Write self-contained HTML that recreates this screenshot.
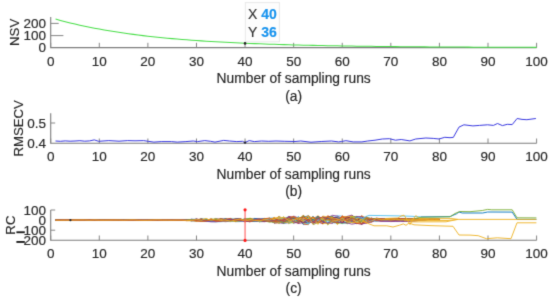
<!DOCTYPE html><html><head><meta charset="utf-8"><style>html,body{margin:0;padding:0;background:#fff;}svg{display:block;}text{font-family:"Liberation Sans",sans-serif;fill:#262626;stroke:#262626;stroke-width:0.16px;}</style></head><body>
<svg width="550" height="300" viewBox="0 0 550 300">
<defs><filter id="bl" x="0" y="0" width="550" height="300" filterUnits="userSpaceOnUse" color-interpolation-filters="sRGB"><feConvolveMatrix order="3" kernelMatrix="1 6 1 6 36 6 1 6 1" edgeMode="duplicate"/></filter></defs><g filter="url(#bl)"><rect width="550" height="300" fill="#fff"/>
<path d="M50.7,17.1 V47.6 H536.6" fill="none" stroke="#7c7c7c" stroke-width="1.1"/>
<line x1="50.70" y1="42.80" x2="50.70" y2="47.6" stroke="#858585" stroke-width="1"/>
<text x="50.70" y="65.50" font-size="13.5" text-anchor="middle">0</text>
<line x1="99.29" y1="42.80" x2="99.29" y2="47.6" stroke="#858585" stroke-width="1"/>
<text x="99.29" y="65.50" font-size="13.5" text-anchor="middle">10</text>
<line x1="147.88" y1="42.80" x2="147.88" y2="47.6" stroke="#858585" stroke-width="1"/>
<text x="147.88" y="65.50" font-size="13.5" text-anchor="middle">20</text>
<line x1="196.47" y1="42.80" x2="196.47" y2="47.6" stroke="#858585" stroke-width="1"/>
<text x="196.47" y="65.50" font-size="13.5" text-anchor="middle">30</text>
<line x1="245.06" y1="42.80" x2="245.06" y2="47.6" stroke="#858585" stroke-width="1"/>
<text x="245.06" y="65.50" font-size="13.5" text-anchor="middle">40</text>
<line x1="293.65" y1="42.80" x2="293.65" y2="47.6" stroke="#858585" stroke-width="1"/>
<text x="293.65" y="65.50" font-size="13.5" text-anchor="middle">50</text>
<line x1="342.24" y1="42.80" x2="342.24" y2="47.6" stroke="#858585" stroke-width="1"/>
<text x="342.24" y="65.50" font-size="13.5" text-anchor="middle">60</text>
<line x1="390.83" y1="42.80" x2="390.83" y2="47.6" stroke="#858585" stroke-width="1"/>
<text x="390.83" y="65.50" font-size="13.5" text-anchor="middle">70</text>
<line x1="439.42" y1="42.80" x2="439.42" y2="47.6" stroke="#858585" stroke-width="1"/>
<text x="439.42" y="65.50" font-size="13.5" text-anchor="middle">80</text>
<line x1="488.01" y1="42.80" x2="488.01" y2="47.6" stroke="#858585" stroke-width="1"/>
<text x="488.01" y="65.50" font-size="13.5" text-anchor="middle">90</text>
<line x1="536.60" y1="42.80" x2="536.60" y2="47.6" stroke="#858585" stroke-width="1"/>
<text x="536.60" y="65.50" font-size="13.5" text-anchor="middle">100</text>
<line x1="50.7" y1="23.40" x2="58.70" y2="23.40" stroke="#858585" stroke-width="1"/>
<text x="46.10" y="28.00" font-size="13.5" text-anchor="end">200</text>
<line x1="50.7" y1="35.60" x2="63.40" y2="35.60" stroke="#858585" stroke-width="1"/>
<text x="46.10" y="40.20" font-size="13.5" text-anchor="end">100</text>
<line x1="50.7" y1="47.60" x2="50.70" y2="47.60" stroke="#858585" stroke-width="1"/>
<text x="46.10" y="52.20" font-size="13.5" text-anchor="end">0</text>
<text x="293.65" y="83.40" font-size="13.8" text-anchor="middle">Number of sampling runs</text>
<text x="293.65" y="100.70" font-size="13.8" text-anchor="middle">(a)</text>
<text transform="translate(18.7,32.35) rotate(-90)" x="0" y="0" font-size="13.2" text-anchor="middle">NSV</text>
<polyline points="55.56,19.04 60.42,20.39 65.28,21.67 70.14,22.89 75.00,24.05 79.85,25.16 84.71,26.21 89.57,27.22 94.43,28.18 99.29,29.09 104.15,29.96 109.01,30.79 113.87,31.58 118.73,32.34 123.59,33.06 128.44,33.74 133.30,34.39 138.16,35.01 143.02,35.61 147.88,36.17 152.74,36.71 157.60,37.22 162.46,37.71 167.32,38.17 172.18,38.62 177.03,39.04 181.89,39.44 186.75,39.83 191.61,40.19 196.47,40.54 201.33,40.87 206.19,41.19 211.05,41.49 215.91,41.78 220.76,42.05 225.62,42.31 230.48,42.56 235.34,42.80 240.20,43.02 245.06,43.24 249.92,43.44 254.78,43.64 259.64,43.83 264.50,44.00 269.36,44.17 274.21,44.33 279.07,44.49 283.93,44.63 288.79,44.77 293.65,44.91 298.51,45.03 303.37,45.15 308.23,45.27 313.09,45.38 317.95,45.48 322.80,45.58 327.66,45.68 332.52,45.77 337.38,45.85 342.24,45.94 347.10,46.02 351.96,46.09 356.82,46.16 361.68,46.23 366.54,46.29 371.39,46.35 376.25,46.41 381.11,46.47 385.97,46.52 390.83,46.57 395.69,46.62 400.55,46.67 405.41,46.71 410.27,46.75 415.12,46.79 419.98,46.83 424.84,46.87 429.70,46.90 434.56,46.93 439.42,46.97 444.28,47.00 449.14,47.02 454.00,47.05 458.86,47.08 463.71,47.10 468.57,47.12 473.43,47.15 478.29,47.17 483.15,47.19 488.01,47.21 492.87,47.23 497.73,47.24 502.59,47.26 507.45,47.28 512.31,47.29 517.16,47.31 522.02,47.32 526.88,47.33 531.74,47.35 536.60,47.36" fill="none" stroke="#48de48" stroke-width="1.05"/>
<path d="M50.7,113.3 V143.3 H536.6" fill="none" stroke="#7c7c7c" stroke-width="1.1"/>
<line x1="50.70" y1="138.50" x2="50.70" y2="143.3" stroke="#858585" stroke-width="1"/>
<text x="50.70" y="161.20" font-size="13.5" text-anchor="middle">0</text>
<line x1="99.29" y1="138.50" x2="99.29" y2="143.3" stroke="#858585" stroke-width="1"/>
<text x="99.29" y="161.20" font-size="13.5" text-anchor="middle">10</text>
<line x1="147.88" y1="138.50" x2="147.88" y2="143.3" stroke="#858585" stroke-width="1"/>
<text x="147.88" y="161.20" font-size="13.5" text-anchor="middle">20</text>
<line x1="196.47" y1="138.50" x2="196.47" y2="143.3" stroke="#858585" stroke-width="1"/>
<text x="196.47" y="161.20" font-size="13.5" text-anchor="middle">30</text>
<line x1="245.06" y1="138.50" x2="245.06" y2="143.3" stroke="#858585" stroke-width="1"/>
<text x="245.06" y="161.20" font-size="13.5" text-anchor="middle">40</text>
<line x1="293.65" y1="138.50" x2="293.65" y2="143.3" stroke="#858585" stroke-width="1"/>
<text x="293.65" y="161.20" font-size="13.5" text-anchor="middle">50</text>
<line x1="342.24" y1="138.50" x2="342.24" y2="143.3" stroke="#858585" stroke-width="1"/>
<text x="342.24" y="161.20" font-size="13.5" text-anchor="middle">60</text>
<line x1="390.83" y1="138.50" x2="390.83" y2="143.3" stroke="#858585" stroke-width="1"/>
<text x="390.83" y="161.20" font-size="13.5" text-anchor="middle">70</text>
<line x1="439.42" y1="138.50" x2="439.42" y2="143.3" stroke="#858585" stroke-width="1"/>
<text x="439.42" y="161.20" font-size="13.5" text-anchor="middle">80</text>
<line x1="488.01" y1="138.50" x2="488.01" y2="143.3" stroke="#858585" stroke-width="1"/>
<text x="488.01" y="161.20" font-size="13.5" text-anchor="middle">90</text>
<line x1="536.60" y1="138.50" x2="536.60" y2="143.3" stroke="#858585" stroke-width="1"/>
<text x="536.60" y="161.20" font-size="13.5" text-anchor="middle">100</text>
<line x1="50.7" y1="123.00" x2="55.20" y2="123.00" stroke="#858585" stroke-width="1"/>
<text x="46.10" y="127.60" font-size="13.5" text-anchor="end">0.5</text>
<line x1="50.7" y1="143.30" x2="50.70" y2="143.30" stroke="#858585" stroke-width="1"/>
<text x="46.10" y="147.90" font-size="13.5" text-anchor="end">0.4</text>
<text x="293.65" y="179.10" font-size="13.8" text-anchor="middle">Number of sampling runs</text>
<text x="293.65" y="196.40" font-size="13.8" text-anchor="middle">(b)</text>
<text transform="translate(22.6,128.30) rotate(-90)" x="0" y="0" font-size="13.2" text-anchor="middle">RMSECV</text>
<polyline points="55.50,141.00 60.40,141.30 65.20,140.90 70.10,141.20 75.00,141.00 79.90,140.70 84.70,141.20 89.60,140.90 94.30,139.90 98.60,141.30 108.80,140.60 119.00,141.20 127.70,140.60 135.00,140.80 143.70,140.60 148.10,141.30 153.90,142.10 161.20,141.60 171.40,141.60 177.20,142.10 185.90,141.60 193.20,141.00 197.50,141.60 204.80,140.60 210.60,141.30 215.00,142.10 223.70,140.40 229.50,141.00 236.80,141.60 242.60,141.30 244.80,142.60 249.20,140.60 254.30,141.60 261.50,141.00 268.80,141.30 276.00,141.00 284.80,141.30 295.00,141.50 300.80,141.00 311.00,142.20 321.20,141.50 331.40,141.00 338.60,141.90 341.50,141.50 345.90,140.70 353.20,141.90 361.90,141.90 367.70,141.00 375.00,140.20 382.30,139.00 389.50,138.70 395.40,140.20 401.20,139.50 409.90,140.90 415.70,139.00 425.90,138.00 433.20,138.40 439.00,139.00 444.80,137.30 450.00,137.70 453.30,137.40 459.00,127.10 463.90,124.80 472.90,125.90 479.50,125.40 487.60,124.80 493.40,125.40 497.50,123.50 502.40,125.60 507.30,124.30 512.20,124.60 517.10,118.50 522.00,119.40 526.90,119.70 535.90,118.50" fill="none" stroke="#3838e0" stroke-width="1.0" stroke-linejoin="round"/>
<path d="M50.7,209.9 V240.3 H536.6" fill="none" stroke="#7c7c7c" stroke-width="1.1"/>
<line x1="50.70" y1="235.50" x2="50.70" y2="240.3" stroke="#858585" stroke-width="1"/>
<text x="50.70" y="258.20" font-size="13.5" text-anchor="middle">0</text>
<line x1="99.29" y1="235.50" x2="99.29" y2="240.3" stroke="#858585" stroke-width="1"/>
<text x="99.29" y="258.20" font-size="13.5" text-anchor="middle">10</text>
<line x1="147.88" y1="235.50" x2="147.88" y2="240.3" stroke="#858585" stroke-width="1"/>
<text x="147.88" y="258.20" font-size="13.5" text-anchor="middle">20</text>
<line x1="196.47" y1="235.50" x2="196.47" y2="240.3" stroke="#858585" stroke-width="1"/>
<text x="196.47" y="258.20" font-size="13.5" text-anchor="middle">30</text>
<text x="245.06" y="258.20" font-size="13.5" text-anchor="middle">40</text>
<line x1="293.65" y1="235.50" x2="293.65" y2="240.3" stroke="#858585" stroke-width="1"/>
<text x="293.65" y="258.20" font-size="13.5" text-anchor="middle">50</text>
<line x1="342.24" y1="235.50" x2="342.24" y2="240.3" stroke="#858585" stroke-width="1"/>
<text x="342.24" y="258.20" font-size="13.5" text-anchor="middle">60</text>
<line x1="390.83" y1="235.50" x2="390.83" y2="240.3" stroke="#858585" stroke-width="1"/>
<text x="390.83" y="258.20" font-size="13.5" text-anchor="middle">70</text>
<line x1="439.42" y1="235.50" x2="439.42" y2="240.3" stroke="#858585" stroke-width="1"/>
<text x="439.42" y="258.20" font-size="13.5" text-anchor="middle">80</text>
<line x1="488.01" y1="235.50" x2="488.01" y2="240.3" stroke="#858585" stroke-width="1"/>
<text x="488.01" y="258.20" font-size="13.5" text-anchor="middle">90</text>
<line x1="536.60" y1="235.50" x2="536.60" y2="240.3" stroke="#858585" stroke-width="1"/>
<text x="536.60" y="258.20" font-size="13.5" text-anchor="middle">100</text>
<line x1="50.7" y1="210.00" x2="55.20" y2="210.00" stroke="#858585" stroke-width="1"/>
<text x="46.10" y="214.60" font-size="13.5" text-anchor="end">100</text>
<line x1="50.7" y1="220.10" x2="50.70" y2="220.10" stroke="#858585" stroke-width="1"/>
<text x="46.10" y="224.70" font-size="13.5" text-anchor="end">0</text>
<line x1="50.7" y1="230.20" x2="55.20" y2="230.20" stroke="#858585" stroke-width="1"/>
<text x="46.10" y="234.80" font-size="13.5" text-anchor="end">100</text>
<line x1="50.7" y1="240.30" x2="50.70" y2="240.30" stroke="#858585" stroke-width="1"/>
<text x="46.10" y="244.90" font-size="13.5" text-anchor="end">200</text>
<text x="293.65" y="276.10" font-size="13.8" text-anchor="middle">Number of sampling runs</text>
<text x="293.65" y="293.40" font-size="13.8" text-anchor="middle">(c)</text>
<text transform="translate(14.7,225.10) rotate(-90)" x="0" y="0" font-size="13.2" text-anchor="middle">RC</text>
<polyline points="55.56,220.19 60.42,220.24 65.28,220.19 70.14,220.24 75.00,219.98 79.85,220.07 84.71,220.23 89.57,220.16 94.43,220.23 99.29,220.00 104.15,220.08 109.01,220.02 113.87,220.10 118.73,220.12 123.59,219.95 128.44,219.98 133.30,220.00 138.16,220.25 143.02,220.23 147.88,219.97 152.74,220.22 157.60,219.94 162.46,220.14 167.32,219.90 172.18,219.79 177.03,220.28 181.89,219.91 186.75,219.72 191.61,220.83 196.47,221.00 201.33,219.67 206.19,221.36 211.05,220.38 215.91,220.66 220.76,219.29 225.62,221.33 230.48,220.85 235.34,221.65 240.20,221.55 245.06,219.65 249.92,219.59 254.78,218.94 259.64,218.77 264.50,218.46 269.36,219.07 274.21,220.51 279.07,216.49 283.93,220.95 288.79,219.01 293.65,218.55 298.51,222.25 303.37,220.26 308.23,218.54 313.09,219.73 317.95,221.81 322.80,216.51 327.66,223.72 332.52,216.47 337.38,221.77 342.24,223.28 347.10,216.37 351.96,222.09 356.82,219.21 361.68,220.66 366.54,217.00 371.39,218.75 376.25,219.70 381.11,220.68 385.97,220.33 390.83,220.58 395.69,220.57 400.55,220.64 405.41,220.69 410.27,220.32 415.12,220.35 419.98,220.04 424.84,219.63 429.70,219.40 434.56,219.40 439.42,219.40" fill="none" stroke="#0072BD" stroke-width="0.8"/>
<polyline points="55.56,219.98 60.42,220.06 65.28,220.19 70.14,220.19 75.00,220.04 79.85,220.20 84.71,220.16 89.57,220.15 94.43,220.14 99.29,220.17 104.15,220.04 109.01,220.17 113.87,220.02 118.73,220.11 123.59,220.18 128.44,220.15 133.30,220.01 138.16,220.29 143.02,220.12 147.88,220.13 152.74,219.87 157.60,220.18 162.46,219.96 167.32,220.22 172.18,220.05 177.03,220.30 181.89,220.16 186.75,220.44 191.61,219.75 196.47,220.49 201.33,220.66 206.19,220.92 211.05,219.49 215.91,221.24 220.76,220.96 225.62,220.49 230.48,221.48 235.34,221.22 240.20,219.92 245.06,220.23 249.92,218.99 254.78,221.44 259.64,221.27 264.50,219.77 269.36,220.94 274.21,221.13 279.07,221.53 283.93,217.37 288.79,222.75 293.65,220.13 298.51,221.32 303.37,219.12 308.23,221.37 313.09,222.19 317.95,220.83 322.80,221.84 327.66,215.67 332.52,218.12 337.38,220.01 342.24,221.41 347.10,217.41 351.96,222.27 356.82,220.76 361.68,216.02 366.54,220.53 371.39,218.01 376.25,219.77 381.11,219.82 385.97,220.03 390.83,220.15 395.69,220.34 400.55,220.04 405.41,220.04 410.27,220.30 415.12,219.71 419.98,219.63 424.84,219.55 429.70,219.40 434.56,219.40 439.42,219.40" fill="none" stroke="#D95319" stroke-width="0.8"/>
<polyline points="55.56,220.03 60.42,220.23 65.28,220.18 70.14,220.02 75.00,220.03 79.85,220.00 84.71,220.25 89.57,220.03 94.43,220.14 99.29,220.09 104.15,220.14 109.01,220.13 113.87,220.17 118.73,219.98 123.59,220.19 128.44,220.03 133.30,220.12 138.16,220.04 143.02,220.02 147.88,220.12 152.74,220.08 157.60,220.03 162.46,220.23 167.32,220.14 172.18,219.84 177.03,219.97 181.89,220.07 186.75,220.61 191.61,220.71 196.47,220.16 201.33,218.73 206.19,220.96 211.05,219.85 215.91,220.33 220.76,220.71 225.62,220.47 230.48,220.03 235.34,221.38 240.20,219.68 245.06,219.77 249.92,221.26 254.78,219.05 259.64,219.47 264.50,221.24 269.36,218.33 274.21,222.20 279.07,221.41 283.93,219.54 288.79,218.55 293.65,222.25 298.51,223.04 303.37,216.87 308.23,220.07 313.09,220.52 317.95,220.06 322.80,218.65 327.66,217.19 332.52,220.98 337.38,222.74 342.24,216.26 347.10,217.96 351.96,222.95 356.82,222.47 361.68,221.39 366.54,216.71 371.39,221.77 376.25,219.33 381.11,218.67 385.97,219.11 390.83,218.62 395.69,219.09 400.55,218.90 405.41,218.63 410.27,218.56 415.12,218.92 419.98,218.98 424.84,219.29 429.70,219.40 434.56,219.40 439.42,219.40" fill="none" stroke="#EDB120" stroke-width="0.8"/>
<polyline points="55.56,220.20 60.42,220.00 65.28,220.13 70.14,220.06 75.00,220.02 79.85,220.04 84.71,220.13 89.57,220.06 94.43,220.06 99.29,219.99 104.15,220.19 109.01,220.15 113.87,220.19 118.73,220.09 123.59,220.21 128.44,220.11 133.30,220.13 138.16,220.13 143.02,220.20 147.88,220.06 152.74,219.91 157.60,219.86 162.46,219.93 167.32,219.84 172.18,220.30 177.03,220.10 181.89,220.30 186.75,219.52 191.61,220.00 196.47,220.90 201.33,220.51 206.19,219.92 211.05,219.99 215.91,218.92 220.76,218.99 225.62,218.99 230.48,219.64 235.34,219.71 240.20,221.27 245.06,219.07 249.92,219.23 254.78,219.31 259.64,218.92 264.50,219.30 269.36,219.00 274.21,219.89 279.07,216.62 283.93,223.01 288.79,219.32 293.65,223.29 298.51,221.70 303.37,221.72 308.23,219.96 313.09,223.92 317.95,217.06 322.80,221.35 327.66,218.39 332.52,221.49 337.38,222.16 342.24,217.34 347.10,217.35 351.96,215.83 356.82,217.50 361.68,216.30 366.54,219.65 371.39,220.04 376.25,220.84 381.11,221.46 385.97,221.17 390.83,221.59 395.69,221.29 400.55,221.03 405.41,221.50 410.27,221.06 415.12,221.07 419.98,220.32 424.84,219.82 429.70,219.40 434.56,219.40 439.42,219.40" fill="none" stroke="#7E2F8E" stroke-width="0.8"/>
<polyline points="55.56,220.08 60.42,220.13 65.28,220.01 70.14,220.01 75.00,220.20 79.85,219.92 84.71,220.09 89.57,220.04 94.43,220.09 99.29,219.99 104.15,220.13 109.01,220.03 113.87,220.20 118.73,220.07 123.59,220.24 128.44,220.09 133.30,220.20 138.16,220.08 143.02,220.08 147.88,220.25 152.74,220.11 157.60,220.32 162.46,220.12 167.32,220.20 172.18,219.93 177.03,220.36 181.89,219.86 186.75,219.81 191.61,219.55 196.47,219.71 201.33,219.66 206.19,220.79 211.05,219.18 215.91,219.22 220.76,221.27 225.62,219.76 230.48,218.80 235.34,219.27 240.20,219.29 245.06,219.99 249.92,221.31 254.78,221.05 259.64,220.06 264.50,219.21 269.36,220.27 274.21,219.18 279.07,219.34 283.93,216.82 288.79,222.13 293.65,221.65 298.51,221.11 303.37,216.11 308.23,222.07 313.09,216.43 317.95,223.47 322.80,218.19 327.66,224.69 332.52,220.67 337.38,216.57 342.24,220.04 347.10,223.70 351.96,218.22 356.82,220.34 361.68,219.49 366.54,221.92 371.39,219.50 376.25,219.72 381.11,219.39 385.97,219.72 390.83,219.48 395.69,219.67 400.55,219.27 405.41,219.26 410.27,219.35 415.12,219.31 419.98,219.34 424.84,219.46 429.70,219.40 434.56,219.40 439.42,219.40" fill="none" stroke="#77AC30" stroke-width="0.8"/>
<polyline points="55.56,220.16 60.42,220.05 65.28,220.22 70.14,220.05 75.00,220.16 79.85,219.98 84.71,220.16 89.57,220.16 94.43,220.25 99.29,220.24 104.15,220.18 109.01,220.21 113.87,220.19 118.73,220.15 123.59,220.01 128.44,220.09 133.30,220.24 138.16,220.02 143.02,220.28 147.88,220.15 152.74,220.06 157.60,219.85 162.46,220.01 167.32,219.91 172.18,220.16 177.03,220.34 181.89,220.46 186.75,220.32 191.61,219.96 196.47,219.26 201.33,220.47 206.19,220.31 211.05,220.75 215.91,219.83 220.76,221.21 225.62,219.40 230.48,219.40 235.34,219.27 240.20,220.36 245.06,221.41 249.92,219.22 254.78,220.41 259.64,221.03 264.50,219.31 269.36,218.24 274.21,220.08 279.07,222.54 283.93,223.26 288.79,222.25 293.65,219.80 298.51,219.50 303.37,220.25 308.23,223.60 313.09,218.91 317.95,218.04 322.80,220.71 327.66,224.20 332.52,218.01 337.38,215.76 342.24,216.16 347.10,220.06 351.96,220.98 356.82,217.51 361.68,217.06 366.54,220.45 371.39,221.12 376.25,219.37 381.11,220.58 385.97,220.52 390.83,220.57 395.69,220.43 400.55,220.30 405.41,220.13 410.27,220.06 415.12,220.13 419.98,219.93 424.84,219.67 429.70,219.40 434.56,219.40 439.42,219.40" fill="none" stroke="#4DBEEE" stroke-width="0.8"/>
<polyline points="55.56,219.97 60.42,220.02 65.28,219.97 70.14,220.08 75.00,220.24 79.85,220.12 84.71,220.07 89.57,220.23 94.43,219.99 99.29,220.05 104.15,220.19 109.01,219.96 113.87,220.17 118.73,220.06 123.59,219.94 128.44,220.00 133.30,220.08 138.16,220.05 143.02,220.10 147.88,219.90 152.74,219.96 157.60,220.32 162.46,220.09 167.32,220.08 172.18,219.87 177.03,219.95 181.89,220.44 186.75,220.36 191.61,220.14 196.47,219.17 201.33,219.72 206.19,220.87 211.05,219.96 215.91,220.37 220.76,221.32 225.62,220.62 230.48,220.55 235.34,218.69 240.20,218.50 245.06,220.85 249.92,219.87 254.78,221.31 259.64,221.26 264.50,221.58 269.36,219.74 274.21,223.00 279.07,222.24 283.93,223.14 288.79,217.70 293.65,222.02 298.51,219.65 303.37,224.13 308.23,224.62 313.09,217.96 317.95,219.28 322.80,218.08 327.66,219.71 332.52,218.24 337.38,221.41 342.24,216.95 347.10,217.05 351.96,219.53 356.82,216.40 361.68,218.83 366.54,222.49 371.39,218.42 376.25,220.46 381.11,219.20 385.97,219.67 390.83,219.14 395.69,219.38 400.55,219.57 405.41,219.58 410.27,219.43 415.12,219.50 419.98,219.29 424.84,219.39 429.70,219.40 434.56,219.40 439.42,219.40" fill="none" stroke="#A2142F" stroke-width="0.8"/>
<polyline points="55.56,220.10 60.42,220.12 65.28,220.01 70.14,220.10 75.00,219.97 79.85,220.00 84.71,220.07 89.57,220.00 94.43,220.26 99.29,220.00 104.15,220.05 109.01,220.19 113.87,220.15 118.73,220.02 123.59,220.22 128.44,220.12 133.30,220.06 138.16,220.16 143.02,219.98 147.88,220.02 152.74,220.29 157.60,220.03 162.46,220.32 167.32,219.88 172.18,219.94 177.03,219.87 181.89,220.35 186.75,220.10 191.61,219.29 196.47,219.35 201.33,221.21 206.19,219.86 211.05,221.23 215.91,218.52 220.76,220.69 225.62,218.82 230.48,221.04 235.34,220.25 240.20,220.42 245.06,219.14 249.92,221.75 254.78,218.49 259.64,218.98 264.50,220.95 269.36,218.29 274.21,218.09 279.07,220.31 283.93,221.16 288.79,222.79 293.65,221.19 298.51,216.69 303.37,222.13 308.23,222.65 313.09,216.32 317.95,223.05 322.80,217.43 327.66,218.91 332.52,216.05 337.38,223.14 342.24,219.62 347.10,223.65 351.96,219.09 356.82,217.34 361.68,218.22 366.54,218.69 371.39,218.41 376.25,219.00 381.11,219.23 385.97,218.96 390.83,219.15 395.69,219.13 400.55,219.41 405.41,219.02 410.27,219.18 415.12,219.24 419.98,219.26 424.84,219.39 429.70,219.40 434.56,219.40 439.42,219.40" fill="none" stroke="#0072BD" stroke-width="0.8"/>
<polyline points="55.56,220.18 60.42,219.95 65.28,220.17 70.14,219.95 75.00,220.31 79.85,220.03 84.71,220.11 89.57,220.03 94.43,220.15 99.29,220.22 104.15,220.03 109.01,220.04 113.87,220.13 118.73,220.21 123.59,220.01 128.44,220.18 133.30,220.22 138.16,219.98 143.02,220.28 147.88,220.03 152.74,219.96 157.60,219.94 162.46,220.39 167.32,219.95 172.18,220.13 177.03,220.33 181.89,220.03 186.75,220.14 191.61,219.72 196.47,220.81 201.33,219.02 206.19,220.47 211.05,220.69 215.91,220.16 220.76,218.98 225.62,219.67 230.48,220.88 235.34,220.49 240.20,218.68 245.06,222.28 249.92,218.00 254.78,219.89 259.64,218.82 264.50,220.45 269.36,220.40 274.21,222.02 279.07,216.61 283.93,223.01 288.79,215.98 293.65,222.40 298.51,217.32 303.37,220.20 308.23,216.21 313.09,223.60 317.95,215.41 322.80,224.31 327.66,216.96 332.52,222.19 337.38,220.44 342.24,219.86 347.10,223.41 351.96,222.34 356.82,217.30 361.68,219.83 366.54,222.54 371.39,218.99 376.25,221.10 381.11,220.17 385.97,219.71 390.83,219.90 395.69,220.11 400.55,220.21 405.41,219.92 410.27,220.02 415.12,219.91 419.98,219.60 424.84,219.48 429.70,219.40 434.56,219.40 439.42,219.40" fill="none" stroke="#EDB120" stroke-width="0.8"/>
<polyline points="55.56,220.13 60.42,220.17 65.28,220.22 70.14,220.16 75.00,219.97 79.85,220.19 84.71,220.27 89.57,220.05 94.43,219.96 99.29,220.02 104.15,219.96 109.01,220.03 113.87,219.96 118.73,219.99 123.59,219.92 128.44,220.03 133.30,220.01 138.16,220.17 143.02,220.07 147.88,219.95 152.74,220.28 157.60,220.33 162.46,220.25 167.32,219.98 172.18,220.02 177.03,220.05 181.89,220.02 186.75,219.50 191.61,219.86 196.47,220.59 201.33,220.78 206.19,221.27 211.05,220.88 215.91,221.04 220.76,221.41 225.62,221.64 230.48,221.33 235.34,220.10 240.20,220.60 245.06,220.71 249.92,221.47 254.78,221.09 259.64,220.12 264.50,219.06 269.36,219.17 274.21,218.34 279.07,220.98 283.93,222.28 288.79,218.28 293.65,219.97 298.51,222.59 303.37,219.55 308.23,216.50 313.09,220.25 317.95,218.95 322.80,216.80 327.66,217.58 332.52,215.33 337.38,216.08 342.24,218.62 347.10,216.39 351.96,215.07 356.82,219.48 361.68,223.91 366.54,222.91 371.39,222.34 376.25,219.60 381.11,220.48 385.97,220.41 390.83,220.39 395.69,220.49 400.55,220.22 405.41,220.39 410.27,220.26 415.12,220.31 419.98,219.92 424.84,219.68 429.70,219.40 434.56,219.40 439.42,219.40" fill="none" stroke="#7E2F8E" stroke-width="0.8"/>
<polyline points="55.56,220.20 60.42,220.07 65.28,220.06 70.14,220.11 75.00,220.20 79.85,220.09 84.71,220.09 89.57,220.15 94.43,220.12 99.29,220.07 104.15,220.09 109.01,219.99 113.87,220.11 118.73,220.21 123.59,220.01 128.44,220.08 133.30,220.14 138.16,220.12 143.02,219.96 147.88,220.12 152.74,220.20 157.60,219.85 162.46,219.97 167.32,220.27 172.18,220.28 177.03,219.80 181.89,219.89 186.75,220.34 191.61,219.65 196.47,220.58 201.33,218.61 206.19,220.39 211.05,219.04 215.91,219.90 220.76,220.73 225.62,219.95 230.48,221.23 235.34,220.85 240.20,220.27 245.06,221.16 249.92,218.76 254.78,220.39 259.64,219.42 264.50,220.71 269.36,218.37 274.21,223.08 279.07,218.11 283.93,222.75 288.79,222.65 293.65,222.66 298.51,218.58 303.37,223.65 308.23,223.40 313.09,216.01 317.95,223.35 322.80,221.16 327.66,219.45 332.52,218.37 337.38,217.77 342.24,219.98 347.10,223.85 351.96,218.23 356.82,218.51 361.68,221.56 366.54,219.27 371.39,219.69 376.25,218.84 381.11,219.39 385.97,219.59 390.83,219.78 395.69,219.43 400.55,219.61 405.41,219.80 410.27,219.54 415.12,219.52 419.98,219.39 424.84,219.48 429.70,219.40 434.56,219.40 439.42,219.40" fill="none" stroke="#4DBEEE" stroke-width="0.8"/>
<polyline points="55.56,220.14 60.42,220.20 65.28,220.16 70.14,220.02 75.00,220.01 79.85,219.97 84.71,220.15 89.57,220.01 94.43,219.97 99.29,220.07 104.15,220.03 109.01,220.03 113.87,220.17 118.73,220.11 123.59,220.03 128.44,220.20 133.30,219.97 138.16,220.30 143.02,219.89 147.88,220.19 152.74,220.17 157.60,220.20 162.46,220.07 167.32,220.31 172.18,220.12 177.03,220.21 181.89,219.74 186.75,219.85 191.61,220.12 196.47,220.19 201.33,218.93 206.19,221.06 211.05,219.43 215.91,220.18 220.76,220.15 225.62,221.11 230.48,219.26 235.34,220.48 240.20,220.34 245.06,220.54 249.92,219.39 254.78,219.54 259.64,220.13 264.50,220.43 269.36,220.58 274.21,217.78 279.07,220.37 283.93,220.48 288.79,217.75 293.65,217.70 298.51,223.83 303.37,214.98 308.23,221.27 313.09,218.07 317.95,216.54 322.80,218.94 327.66,217.46 332.52,219.85 337.38,223.68 342.24,215.66 347.10,219.85 351.96,221.83 356.82,220.77 361.68,215.82 366.54,218.99 371.39,221.80 376.25,219.15 381.11,219.61 385.97,219.95 390.83,219.84 395.69,220.09 400.55,219.55 405.41,219.92 410.27,219.93 415.12,219.77 419.98,219.66 424.84,219.54 429.70,219.40 434.56,219.40 439.42,219.40" fill="none" stroke="#D95319" stroke-width="0.8"/>
<polyline points="55.56,220.15 60.42,220.11 65.28,219.96 70.14,220.25 75.00,220.03 79.85,220.11 84.71,219.96 89.57,220.02 94.43,220.24 99.29,220.02 104.15,220.05 109.01,220.20 113.87,220.01 118.73,220.16 123.59,220.12 128.44,220.23 133.30,220.08 138.16,220.03 143.02,220.01 147.88,220.05 152.74,219.87 157.60,219.93 162.46,219.93 167.32,220.01 172.18,220.26 177.03,220.35 181.89,219.96 186.75,219.82 191.61,219.79 196.47,220.40 201.33,220.01 206.19,219.02 211.05,220.26 215.91,219.41 220.76,219.09 225.62,221.05 230.48,218.81 235.34,220.02 240.20,220.95 245.06,220.17 249.92,221.31 254.78,219.40 259.64,221.64 264.50,218.44 269.36,221.81 274.21,219.45 279.07,216.49 283.93,218.61 288.79,223.84 293.65,221.40 298.51,221.75 303.37,222.62 308.23,215.65 313.09,218.80 317.95,219.91 322.80,223.63 327.66,223.32 332.52,216.83 337.38,224.55 342.24,220.21 347.10,218.41 351.96,216.65 356.82,219.75 361.68,220.31 366.54,219.75 371.39,222.03 376.25,219.72 381.11,220.04 385.97,219.93 390.83,220.16 395.69,220.19 400.55,220.10 405.41,219.87 410.27,219.86 415.12,219.69 419.98,219.69 424.84,219.54 429.70,219.40 434.56,219.40 439.42,219.40" fill="none" stroke="#EDB120" stroke-width="0.8"/>
<polyline points="55.56,220.00 60.42,220.04 65.28,220.12 70.14,220.06 75.00,220.04 79.85,220.09 84.71,220.24 89.57,220.10 94.43,220.18 99.29,220.21 104.15,219.94 109.01,220.25 113.87,219.95 118.73,220.04 123.59,220.19 128.44,220.17 133.30,220.13 138.16,220.08 143.02,220.20 147.88,220.05 152.74,219.97 157.60,219.99 162.46,219.93 167.32,219.89 172.18,220.40 177.03,220.30 181.89,219.93 186.75,220.05 191.61,219.75 196.47,220.78 201.33,219.89 206.19,219.20 211.05,221.40 215.91,221.09 220.76,218.54 225.62,220.30 230.48,219.20 235.34,220.72 240.20,219.52 245.06,219.57 249.92,219.57 254.78,220.56 259.64,220.01 264.50,220.08 269.36,220.82 274.21,219.72 279.07,223.51 283.93,218.94 288.79,222.50 293.65,222.79 298.51,220.44 303.37,220.79 308.23,222.45 313.09,221.44 317.95,217.19 322.80,219.99 327.66,217.17 332.52,216.59 337.38,222.44 342.24,218.14 347.10,218.40 351.96,216.38 356.82,216.76 361.68,222.27 366.54,218.74 371.39,220.95 376.25,220.01 381.11,219.51 385.97,219.79 390.83,219.94 395.69,219.83 400.55,219.90 405.41,219.77 410.27,219.60 415.12,219.55 419.98,219.60 424.84,219.49 429.70,219.40 434.56,219.40 439.42,219.40" fill="none" stroke="#77AC30" stroke-width="0.8"/>
<polyline points="55.56,220.02 60.42,220.13 65.28,220.12 70.14,220.22 75.00,220.10 79.85,220.10 84.71,220.15 89.57,220.13 94.43,220.07 99.29,220.04 104.15,220.17 109.01,220.05 113.87,219.97 118.73,220.03 123.59,220.07 128.44,220.17 133.30,220.14 138.16,220.09 143.02,220.23 147.88,219.99 152.74,220.06 157.60,220.23 162.46,220.16 167.32,220.05 172.18,220.33 177.03,219.76 181.89,220.24 186.75,220.48 191.61,220.60 196.47,219.31 201.33,221.22 206.19,219.92 211.05,221.41 215.91,219.27 220.76,220.79 225.62,220.36 230.48,221.54 235.34,219.24 240.20,219.96 245.06,218.93 249.92,220.98 254.78,218.47 259.64,221.66 264.50,218.52 269.36,219.33 274.21,223.03 279.07,219.19 283.93,222.21 288.79,218.45 293.65,218.60 298.51,219.49 303.37,224.42 308.23,216.40 313.09,224.48 317.95,222.33 322.80,221.11 327.66,217.84 332.52,222.63 337.38,222.97 342.24,220.20 347.10,217.67 351.96,221.64 356.82,223.65 361.68,220.02 366.54,217.86 371.39,220.99 376.25,219.02 381.11,220.30 385.97,220.34 390.83,220.20 395.69,220.32 400.55,220.35 405.41,220.35 410.27,220.07 415.12,220.25 419.98,219.71 424.84,219.64 429.70,219.40 434.56,219.40 439.42,219.40" fill="none" stroke="#0072BD" stroke-width="0.8"/>
<polyline points="55.56,219.99 60.42,220.01 65.28,220.11 70.14,219.97 75.00,220.14 79.85,220.01 84.71,220.21 89.57,220.00 94.43,220.24 99.29,220.20 104.15,220.20 109.01,219.99 113.87,220.26 118.73,220.05 123.59,220.24 128.44,220.05 133.30,220.13 138.16,220.00 143.02,220.24 147.88,220.00 152.74,220.31 157.60,220.14 162.46,220.05 167.32,219.86 172.18,220.04 177.03,220.07 181.89,220.01 186.75,220.24 191.61,219.23 196.47,220.34 201.33,221.11 206.19,221.10 211.05,220.36 215.91,220.57 220.76,220.27 225.62,221.56 230.48,220.57 235.34,219.84 240.20,220.16 245.06,221.49 249.92,219.87 254.78,220.49 259.64,219.35 264.50,220.87 269.36,219.80 274.21,222.84 279.07,222.82 283.93,223.00 288.79,222.61 293.65,216.01 298.51,218.10 303.37,219.38 308.23,223.12 313.09,219.75 317.95,218.11 322.80,217.23 327.66,218.76 332.52,217.27 337.38,217.84 342.24,222.85 347.10,216.68 351.96,218.20 356.82,221.67 361.68,216.48 366.54,222.91 371.39,220.97 376.25,219.93 381.11,219.48 385.97,219.80 390.83,219.74 395.69,219.31 400.55,219.60 405.41,219.40 410.27,219.48 415.12,219.48 419.98,219.51 424.84,219.42 429.70,219.40 434.56,219.40 439.42,219.40" fill="none" stroke="#7E2F8E" stroke-width="0.8"/>
<polyline points="55.56,220.24 60.42,220.04 65.28,220.15 70.14,220.08 75.00,220.25 79.85,220.15 84.71,220.23 89.57,220.17 94.43,220.00 99.29,220.07 104.15,220.16 109.01,220.00 113.87,219.96 118.73,220.23 123.59,220.26 128.44,220.18 133.30,219.95 138.16,220.15 143.02,220.31 147.88,220.26 152.74,220.23 157.60,220.09 162.46,220.17 167.32,220.34 172.18,220.14 177.03,219.86 181.89,219.78 186.75,220.57 191.61,220.55 196.47,221.10 201.33,219.33 206.19,218.85 211.05,220.43 215.91,219.94 220.76,219.96 225.62,219.27 230.48,220.77 235.34,221.09 240.20,220.97 245.06,220.02 249.92,220.06 254.78,219.75 259.64,219.93 264.50,219.49 269.36,219.86 274.21,222.76 279.07,222.87 283.93,217.84 288.79,221.00 293.65,222.61 298.51,219.35 303.37,223.31 308.23,224.40 313.09,217.09 317.95,220.70 322.80,219.17 327.66,219.66 332.52,220.45 337.38,223.25 342.24,221.73 347.10,223.70 351.96,218.52 356.82,222.40 361.68,219.54 366.54,217.83 371.39,219.73 376.25,220.36 381.11,219.60 385.97,219.33 390.83,219.18 395.69,219.59 400.55,219.17 405.41,219.38 410.27,219.41 415.12,219.46 419.98,219.45 424.84,219.33 429.70,219.40 434.56,219.40 439.42,219.40" fill="none" stroke="#EDB120" stroke-width="0.8"/>
<polyline points="55.56,220.07 60.42,219.97 65.28,220.26 70.14,220.14 75.00,219.97 79.85,220.04 84.71,220.20 89.57,220.08 94.43,220.18 99.29,220.16 104.15,219.98 109.01,220.22 113.87,219.99 118.73,220.01 123.59,220.20 128.44,220.19 133.30,220.01 138.16,220.07 143.02,220.20 147.88,219.99 152.74,220.10 157.60,220.34 162.46,219.86 167.32,220.39 172.18,220.26 177.03,220.36 181.89,219.84 186.75,219.82 191.61,220.07 196.47,219.42 201.33,221.47 206.19,220.03 211.05,221.10 215.91,219.88 220.76,220.14 225.62,221.47 230.48,218.68 235.34,219.52 240.20,221.34 245.06,220.14 249.92,221.01 254.78,221.55 259.64,220.72 264.50,220.35 269.36,221.03 274.21,220.02 279.07,218.04 283.93,219.21 288.79,223.42 293.65,219.65 298.51,216.72 303.37,222.08 308.23,223.96 313.09,220.44 317.95,219.97 322.80,219.75 327.66,221.29 332.52,220.86 337.38,219.85 342.24,223.62 347.10,222.75 351.96,222.01 356.82,221.67 361.68,221.68 366.54,217.93 371.39,219.31 376.25,221.04 381.11,220.33 385.97,219.85 390.83,220.22 395.69,220.05 400.55,219.93 405.41,220.30 410.27,220.17 415.12,219.73 419.98,219.74 424.84,219.52 429.70,219.40 434.56,219.40 439.42,219.40" fill="none" stroke="#4DBEEE" stroke-width="0.8"/>
<polyline points="55.56,220.16 60.42,220.19 65.28,219.98 70.14,220.10 75.00,220.23 79.85,220.01 84.71,220.01 89.57,220.05 94.43,220.22 99.29,220.02 104.15,220.17 109.01,220.21 113.87,220.11 118.73,220.01 123.59,220.12 128.44,220.04 133.30,220.11 138.16,220.14 143.02,220.29 147.88,220.13 152.74,220.10 157.60,220.25 162.46,220.06 167.32,219.94 172.18,220.24 177.03,219.93 181.89,219.93 186.75,220.03 191.61,220.10 196.47,219.13 201.33,220.03 206.19,221.43 211.05,219.80 215.91,219.79 220.76,220.05 225.62,220.71 230.48,219.96 235.34,219.84 240.20,220.42 245.06,219.30 249.92,220.89 254.78,219.65 259.64,220.89 264.50,219.39 269.36,220.85 274.21,218.04 279.07,220.63 283.93,219.91 288.79,216.56 293.65,218.21 298.51,220.27 303.37,222.33 308.23,222.23 313.09,222.53 317.95,222.13 322.80,223.61 327.66,216.62 332.52,217.96 337.38,217.52 342.24,223.25 347.10,216.66 351.96,219.37 356.82,217.17 361.68,224.34 366.54,217.08 371.39,220.36 376.25,218.08 381.11,218.85 385.97,219.00 390.83,219.04 395.69,218.54 400.55,218.54 405.41,218.81 410.27,219.02 415.12,219.05 419.98,219.18 424.84,219.21 429.70,219.40 434.56,219.40 439.42,219.40" fill="none" stroke="#A2142F" stroke-width="0.8"/>
<polyline points="55.56,220.23 60.42,220.13 65.28,220.10 70.14,220.22 75.00,220.00 79.85,220.12 84.71,220.25 89.57,220.06 94.43,219.99 99.29,219.98 104.15,219.95 109.01,220.16 113.87,220.08 118.73,220.20 123.59,220.21 128.44,219.94 133.30,220.02 138.16,220.00 143.02,220.00 147.88,219.89 152.74,219.98 157.60,220.02 162.46,220.07 167.32,220.12 172.18,220.37 177.03,219.88 181.89,219.80 186.75,220.56 191.61,219.78 196.47,220.16 201.33,219.56 206.19,221.20 211.05,221.41 215.91,220.37 220.76,218.90 225.62,219.65 230.48,220.70 235.34,220.34 240.20,219.42 245.06,219.74 249.92,218.66 254.78,219.71 259.64,221.16 264.50,219.77 269.36,219.95 274.21,218.13 279.07,221.55 283.93,219.56 288.79,219.22 293.65,222.08 298.51,218.69 303.37,216.39 308.23,221.14 313.09,222.20 317.95,216.36 322.80,218.58 327.66,223.34 332.52,220.34 337.38,219.31 342.24,216.88 347.10,218.12 351.96,220.75 356.82,223.70 361.68,221.67 366.54,223.29 371.39,218.54 376.25,219.93 381.11,220.83 385.97,220.37 390.83,220.87 395.69,220.47 400.55,220.41 405.41,220.56 410.27,220.33 415.12,220.12 419.98,220.11 424.84,219.70 429.70,219.40 434.56,219.40 439.42,219.40" fill="none" stroke="#D95319" stroke-width="0.8"/>
<polyline points="55.56,220.00 60.42,220.23 65.28,220.10 70.14,220.00 75.00,220.25 79.85,220.13 84.71,220.01 89.57,220.21 94.43,220.14 99.29,220.14 104.15,220.21 109.01,220.04 113.87,220.03 118.73,220.12 123.59,220.01 128.44,220.17 133.30,220.09 138.16,219.98 143.02,219.95 147.88,219.96 152.74,220.14 157.60,220.30 162.46,220.25 167.32,220.28 172.18,220.13 177.03,220.28 181.89,219.96 186.75,219.95 191.61,220.77 196.47,219.58 201.33,220.46 206.19,220.28 211.05,218.80 215.91,220.32 220.76,220.98 225.62,221.26 230.48,219.82 235.34,221.35 240.20,218.61 245.06,221.43 249.92,220.66 254.78,221.11 259.64,219.90 264.50,220.40 269.36,221.38 274.21,218.43 279.07,217.80 283.93,222.02 288.79,222.84 293.65,218.02 298.51,220.49 303.37,220.16 308.23,218.47 313.09,223.09 317.95,218.17 322.80,222.55 327.66,219.29 332.52,217.08 337.38,224.14 342.24,216.98 347.10,216.74 351.96,216.13 356.82,218.90 361.68,216.06 366.54,217.87 371.39,218.87 376.25,218.87 381.11,219.33 385.97,219.53 390.83,219.29 395.69,219.45 400.55,219.52 405.41,219.46 410.27,219.37 415.12,219.31 419.98,219.61 424.84,219.44 429.70,219.40 434.56,219.40 439.42,219.40" fill="none" stroke="#EDB120" stroke-width="0.8"/>
<polyline points="55.56,220.21 60.42,220.13 65.28,220.00 70.14,220.11 75.00,219.99 79.85,220.02 84.71,220.10 89.57,220.10 94.43,220.14 99.29,220.21 104.15,220.26 109.01,220.09 113.87,220.23 118.73,220.08 123.59,220.05 128.44,220.17 133.30,220.29 138.16,220.16 143.02,220.24 147.88,220.28 152.74,220.06 157.60,220.15 162.46,220.34 167.32,219.91 172.18,219.84 177.03,220.25 181.89,220.20 186.75,220.04 191.61,220.56 196.47,220.13 201.33,219.10 206.19,219.41 211.05,220.67 215.91,220.67 220.76,220.24 225.62,218.66 230.48,221.24 235.34,219.09 240.20,219.14 245.06,220.77 249.92,221.70 254.78,221.14 259.64,219.98 264.50,220.90 269.36,221.00 274.21,220.91 279.07,222.48 283.93,221.11 288.79,220.64 293.65,218.45 298.51,221.73 303.37,217.21 308.23,215.87 313.09,220.12 317.95,216.20 322.80,222.31 327.66,218.03 332.52,219.28 337.38,217.82 342.24,219.36 347.10,220.91 351.96,217.70 356.82,219.86 361.68,224.10 366.54,218.58 371.39,218.42 376.25,219.07 381.11,219.84 385.97,220.16 390.83,220.35 395.69,220.20 400.55,220.24 405.41,219.91 410.27,219.99 415.12,220.05 419.98,219.83 424.84,219.56 429.70,219.40 434.56,219.40 439.42,219.40" fill="none" stroke="#0072BD" stroke-width="0.8"/>
<polyline points="55.56,219.99 60.42,220.03 65.28,220.12 70.14,220.05 75.00,220.22 79.85,220.09 84.71,220.16 89.57,219.98 94.43,220.20 99.29,220.26 104.15,220.27 109.01,220.08 113.87,220.20 118.73,220.26 123.59,220.00 128.44,219.94 133.30,220.13 138.16,220.30 143.02,219.94 147.88,220.22 152.74,220.20 157.60,220.11 162.46,219.92 167.32,220.07 172.18,220.09 177.03,219.92 181.89,220.37 186.75,220.46 191.61,219.63 196.47,220.25 201.33,220.41 206.19,221.40 211.05,221.72 215.91,221.53 220.76,219.02 225.62,219.67 230.48,218.96 235.34,220.68 240.20,218.88 245.06,220.94 249.92,220.62 254.78,220.66 259.64,221.68 264.50,221.62 269.36,221.32 274.21,221.16 279.07,220.67 283.93,220.33 288.79,216.65 293.65,217.26 298.51,221.01 303.37,219.55 308.23,219.58 313.09,222.99 317.95,219.61 322.80,221.98 327.66,223.03 332.52,223.46 337.38,218.39 342.24,220.73 347.10,219.92 351.96,220.82 356.82,216.66 361.68,216.85 366.54,218.21 371.39,221.30 376.25,220.76 381.11,220.46 385.97,220.88 390.83,220.37 395.69,220.82 400.55,220.69 405.41,220.66 410.27,220.39 415.12,220.19 419.98,219.94 424.84,219.75 429.70,219.40 434.56,219.40 439.42,219.40" fill="none" stroke="#7E2F8E" stroke-width="0.8"/>
<polyline points="55.56,220.24 60.42,220.28 65.28,220.05 70.14,220.09 75.00,220.16 79.85,220.02 84.71,220.19 89.57,220.20 94.43,220.02 99.29,220.01 104.15,220.13 109.01,220.22 113.87,220.29 118.73,220.09 123.59,220.20 128.44,220.16 133.30,220.07 138.16,219.99 143.02,219.90 147.88,219.83 152.74,219.98 157.60,219.88 162.46,219.88 167.32,219.93 172.18,219.84 177.03,219.84 181.89,219.81 186.75,220.53 191.61,220.16 196.47,220.37 201.33,220.33 206.19,221.48 211.05,221.48 215.91,221.79 220.76,221.74 225.62,221.34 230.48,221.64 235.34,220.06 240.20,220.43 245.06,219.66 249.92,221.34 254.78,219.73 259.64,221.65 264.50,219.70 269.36,219.32 274.21,221.17 279.07,221.05 283.93,218.28 288.79,216.78 293.65,221.85 298.51,218.48 303.37,219.60 308.23,222.85 313.09,220.83 317.95,220.13 322.80,217.22 327.66,222.96 332.52,221.86 337.38,222.09 342.24,219.80 347.10,221.83 351.96,219.59 356.82,217.18 361.68,217.96 366.54,221.31 371.39,220.38 376.25,221.04 381.11,219.81 385.97,220.11 390.83,220.01 395.69,219.67 400.55,220.19 405.41,220.02 410.27,220.19 415.12,219.76 419.98,219.59 424.84,219.49 429.70,219.40 434.56,219.40 439.42,219.40" fill="none" stroke="#4DBEEE" stroke-width="0.8"/>
<polyline points="55.56,220.03 60.42,220.21 65.28,220.17 70.14,220.08 75.00,219.96 79.85,219.95 84.71,219.96 89.57,220.17 94.43,219.96 99.29,220.09 104.15,220.11 109.01,220.06 113.87,220.04 118.73,220.23 123.59,220.24 128.44,220.18 133.30,220.11 138.16,220.28 143.02,220.18 147.88,219.98 152.74,219.94 157.60,219.93 162.46,219.90 167.32,220.05 172.18,220.16 177.03,219.93 181.89,219.78 186.75,219.91 191.61,220.04 196.47,220.89 201.33,221.18 206.19,220.99 211.05,219.38 215.91,221.07 220.76,219.42 225.62,220.37 230.48,220.20 235.34,219.27 240.20,220.25 245.06,219.34 249.92,221.08 254.78,219.21 259.64,221.06 264.50,219.03 269.36,218.19 274.21,219.80 279.07,222.93 283.93,221.04 288.79,218.25 293.65,220.18 298.51,218.85 303.37,221.53 308.23,218.25 313.09,217.28 317.95,224.45 322.80,216.04 327.66,217.06 332.52,218.61 337.38,218.69 342.24,220.60 347.10,220.05 351.96,217.13 356.82,223.00 361.68,221.83 366.54,217.97 371.39,218.45 376.25,220.49 381.11,220.29 385.97,220.06 390.83,219.88 395.69,219.81 400.55,220.20 405.41,219.86 410.27,220.04 415.12,220.04 419.98,219.59 424.84,219.52 429.70,219.40 434.56,219.40 439.42,219.40" fill="none" stroke="#EDB120" stroke-width="0.8"/>
<polyline points="55.56,220.11 60.42,220.21 65.28,220.27 70.14,220.11 75.00,220.01 79.85,220.20 84.71,220.00 89.57,220.09 94.43,220.20 99.29,220.01 104.15,220.01 109.01,220.13 113.87,219.98 118.73,220.19 123.59,220.20 128.44,220.14 133.30,220.21 138.16,219.98 143.02,220.22 147.88,220.14 152.74,220.05 157.60,220.24 162.46,220.11 167.32,219.86 172.18,220.16 177.03,219.84 181.89,220.08 186.75,219.75 191.61,219.86 196.47,219.87 201.33,220.60 206.19,220.59 211.05,219.77 215.91,219.24 220.76,220.76 225.62,218.92 230.48,220.12 235.34,220.81 240.20,220.65 245.06,218.69 249.92,218.47 254.78,220.24 259.64,221.08 264.50,220.75 269.36,222.16 274.21,221.88 279.07,219.99 283.93,223.46 288.79,218.82 293.65,216.97 298.51,218.67 303.37,215.71 308.23,219.82 313.09,220.33 317.95,217.47 322.80,220.53 327.66,219.92 332.52,221.78 337.38,222.93 342.24,223.23 347.10,222.29 351.96,217.09 356.82,220.14 361.68,221.55 366.54,218.11 371.39,219.46 376.25,218.45 381.11,219.40 385.97,219.45 390.83,219.53 395.69,219.31 400.55,219.37 405.41,219.15 410.27,219.00 415.12,219.25 419.98,219.24 424.84,219.43 429.70,219.40 434.56,219.40 439.42,219.40" fill="none" stroke="#77AC30" stroke-width="0.8"/>
<polyline points="55.56,220.19 60.42,220.26 65.28,220.02 70.14,220.18 75.00,219.99 79.85,219.96 84.71,220.17 89.57,220.01 94.43,220.15 99.29,220.26 104.15,220.13 109.01,220.08 113.87,220.21 118.73,220.17 123.59,220.27 128.44,220.20 133.30,220.10 138.16,219.92 143.02,220.22 147.88,220.24 152.74,219.96 157.60,220.16 162.46,220.00 167.32,220.04 172.18,219.90 177.03,219.81 181.89,219.99 186.75,220.32 191.61,220.51 196.47,220.94 201.33,221.50 206.19,221.10 211.05,219.59 215.91,220.80 220.76,220.95 225.62,219.12 230.48,218.40 235.34,221.02 240.20,219.26 245.06,221.11 249.92,221.76 254.78,220.19 259.64,220.21 264.50,218.69 269.36,218.08 274.21,221.53 279.07,221.39 283.93,218.59 288.79,217.50 293.65,216.42 298.51,221.29 303.37,218.43 308.23,215.91 313.09,222.00 317.95,218.90 322.80,217.00 327.66,220.01 332.52,218.94 337.38,220.07 342.24,219.74 347.10,220.38 351.96,218.15 356.82,219.70 361.68,223.94 366.54,218.56 371.39,219.20 376.25,218.97 381.11,218.80 385.97,219.30 390.83,219.13 395.69,219.01 400.55,218.86 405.41,219.09 410.27,218.98 415.12,219.11 419.98,219.25 424.84,219.33 429.70,219.40 434.56,219.40 439.42,219.40" fill="none" stroke="#D95319" stroke-width="0.8"/>
<polyline points="55.56,220.04 60.42,220.00 65.28,220.12 70.14,219.98 75.00,220.10 79.85,220.04 84.71,220.14 89.57,219.99 94.43,220.13 99.29,220.04 104.15,220.11 109.01,220.17 113.87,220.02 118.73,220.03 123.59,220.15 128.44,220.18 133.30,220.26 138.16,219.95 143.02,220.02 147.88,220.01 152.74,220.26 157.60,220.14 162.46,220.02 167.32,219.90 172.18,220.02 177.03,219.99 181.89,219.70 186.75,220.12 191.61,220.74 196.47,220.09 201.33,219.96 206.19,221.15 211.05,221.66 215.91,221.81 220.76,221.22 225.62,219.40 230.48,219.52 235.34,219.47 240.20,220.91 245.06,221.20 249.92,221.38 254.78,219.25 259.64,219.00 264.50,221.51 269.36,219.84 274.21,220.57 279.07,219.69 283.93,221.62 288.79,216.78 293.65,221.63 298.51,223.47 303.37,222.65 308.23,219.40 313.09,221.60 317.95,217.95 322.80,221.94 327.66,223.08 332.52,221.57 337.38,222.60 342.24,222.32 347.10,222.91 351.96,224.20 356.82,223.25 361.68,224.34 366.54,222.36 371.39,219.73 376.25,220.00 381.11,220.85 385.97,221.20 390.83,220.97 395.69,221.14 400.55,221.28 405.41,221.28 410.27,221.28 415.12,220.53 419.98,220.20 424.84,219.75 429.70,219.40 434.56,219.40 439.42,219.40" fill="none" stroke="#7E2F8E" stroke-width="0.8"/>
<polyline points="55.56,220.17 60.42,220.10 65.28,220.08 70.14,220.04 75.00,220.13 79.85,220.17 84.71,220.02 89.57,219.99 94.43,220.16 99.29,220.03 104.15,220.18 109.01,220.12 113.87,219.98 118.73,220.05 123.59,220.24 128.44,220.22 133.30,220.16 138.16,220.30 143.02,220.31 147.88,220.23 152.74,220.28 157.60,220.10 162.46,220.30 167.32,219.99 172.18,220.35 177.03,220.39 181.89,220.35 186.75,220.66 191.61,220.41 196.47,220.48 201.33,219.02 206.19,220.72 211.05,218.92 215.91,221.25 220.76,221.03 225.62,221.26 230.48,220.86 235.34,219.42 240.20,220.41 245.06,220.07 249.92,221.32 254.78,220.44 259.64,219.81 264.50,220.83 269.36,221.22 274.21,220.93 279.07,219.16 283.93,221.31 288.79,220.64 293.65,217.19 298.51,218.35 303.37,217.02 308.23,220.15 313.09,216.76 317.95,222.31 322.80,220.92 327.66,217.00 332.52,221.79 337.38,222.59 342.24,216.13 347.10,222.03 351.96,219.91 356.82,223.53 361.68,223.75 366.54,220.87 371.39,218.65 376.25,220.36 381.11,219.58 385.97,219.54 390.83,219.84 395.69,219.91 400.55,219.80 405.41,219.81 410.27,219.61 415.12,219.57 419.98,219.53 424.84,219.55 429.70,219.40 434.56,219.40 439.42,219.40" fill="none" stroke="#D95319" stroke-width="0.8"/>
<polyline points="55.56,220.14 60.42,220.23 65.28,220.15 70.14,220.23 75.00,220.02 79.85,219.97 84.71,220.02 89.57,220.21 94.43,219.96 99.29,220.20 104.15,220.23 109.01,220.17 113.87,220.09 118.73,220.01 123.59,220.22 128.44,219.98 133.30,219.94 138.16,220.12 143.02,220.27 147.88,220.29 152.74,220.08 157.60,219.88 162.46,220.12 167.32,220.06 172.18,220.19 177.03,220.01 181.89,220.04 186.75,220.54 191.61,220.50 196.47,219.51 201.33,220.34 206.19,218.76 211.05,220.31 215.91,218.64 220.76,220.71 225.62,219.67 230.48,221.49 235.34,219.91 240.20,219.08 245.06,221.07 249.92,219.60 254.78,220.36 259.64,220.82 264.50,219.66 269.36,220.29 274.21,217.41 279.07,219.18 283.93,217.07 288.79,220.52 293.65,219.91 298.51,217.99 303.37,219.26 308.23,216.01 313.09,224.56 317.95,222.61 322.80,218.11 327.66,224.61 332.52,221.42 337.38,219.99 342.24,218.45 347.10,222.07 351.96,222.64 356.82,222.22 361.68,219.36 366.54,222.43 371.39,221.02 376.25,218.53 381.11,219.73 385.97,219.34 390.83,219.92 395.69,219.36 400.55,219.59 405.41,219.50 410.27,219.56 415.12,219.36 419.98,219.49 424.84,219.47 429.70,219.40 434.56,219.40 439.42,219.40" fill="none" stroke="#EDB120" stroke-width="0.8"/>
<polyline points="362.00,218.50 366.50,216.30 369.00,215.40 399.50,215.90 412.00,216.30 421.00,216.90" fill="none" stroke="#4DBEEE" stroke-width="0.9"/>
<polyline points="421.00,216.90 450.00,216.60 456.50,213.80 459.00,212.00 462.30,213.00 482.70,213.00 487.60,212.00 512.20,212.10 517.00,219.40 536.40,219.40" fill="none" stroke="#0072BD" stroke-width="0.9"/>
<polyline points="415.00,218.50 421.00,217.30 450.00,216.80 455.00,213.50 459.80,211.50 470.00,211.70 482.30,210.50 487.60,209.40 491.80,209.80 512.20,209.80 517.00,217.80 536.40,217.90" fill="none" stroke="#77AC30" stroke-width="0.9"/>
<polyline points="362.00,221.00 367.70,223.30 374.00,225.80 386.80,225.80 393.00,227.00 399.50,225.20 403.30,223.90 406.00,225.30 409.00,223.00 414.00,224.80 430.00,225.60 453.00,226.30 459.00,235.00 470.00,235.10 478.20,235.70 486.40,238.70 497.30,237.80 511.00,238.70 517.00,222.80 536.40,222.80" fill="none" stroke="#EDB120" stroke-width="0.9"/>
<polyline points="385.00,218.50 398.00,218.00 401.00,216.00 404.00,215.20 407.00,219.50 410.00,224.50 413.00,219.00 416.00,215.50 419.00,218.50 425.00,218.70 452.00,218.60 458.00,219.40 536.40,219.40" fill="none" stroke="#EDB120" stroke-width="0.9"/>
<polyline points="404.00,220.80 412.00,220.60 448.00,220.50 458.00,219.40" fill="none" stroke="#EDB120" stroke-width="0.9"/>
<polyline points="410.00,221.90 446.00,221.80 457.00,219.50" fill="none" stroke="#EDB120" stroke-width="0.9"/>
<rect x="16.4" y="231.3" width="8.4" height="1.9" fill="#1e1e1e"/><rect x="16.4" y="241.0" width="8.4" height="1.9" fill="#1e1e1e"/>
<line x1="245.06" y1="209.8" x2="245.06" y2="240.4" stroke="#ff5555" stroke-width="1.05"/>
<circle cx="245.06" cy="209.8" r="1.6" fill="#ff1a1a"/><circle cx="245.06" cy="240.4" r="1.6" fill="#ff1a1a"/>
<rect x="245.3" y="2.6" width="34.1" height="39.2" fill="#fdfdfd" stroke="#e8e8e8" stroke-width="1"/>
<text x="248.0" y="19.3" font-size="14" style="fill:#333;stroke:#333">X</text>
<text x="261.3" y="19.3" font-size="14" font-weight="bold" style="fill:#1793ee;stroke:#1793ee">40</text>
<text x="248.0" y="36.8" font-size="14" style="fill:#333;stroke:#333">Y</text>
<text x="261.3" y="36.8" font-size="14" font-weight="bold" style="fill:#1793ee;stroke:#1793ee">36</text>
<circle cx="245.06" cy="43.4" r="1.3" fill="#222"/>
<circle cx="245.06" cy="142.6" r="1.2" fill="#223"/>
<circle cx="70.4" cy="220.2" r="1.1" fill="#222"/>
</g></svg></body></html>
